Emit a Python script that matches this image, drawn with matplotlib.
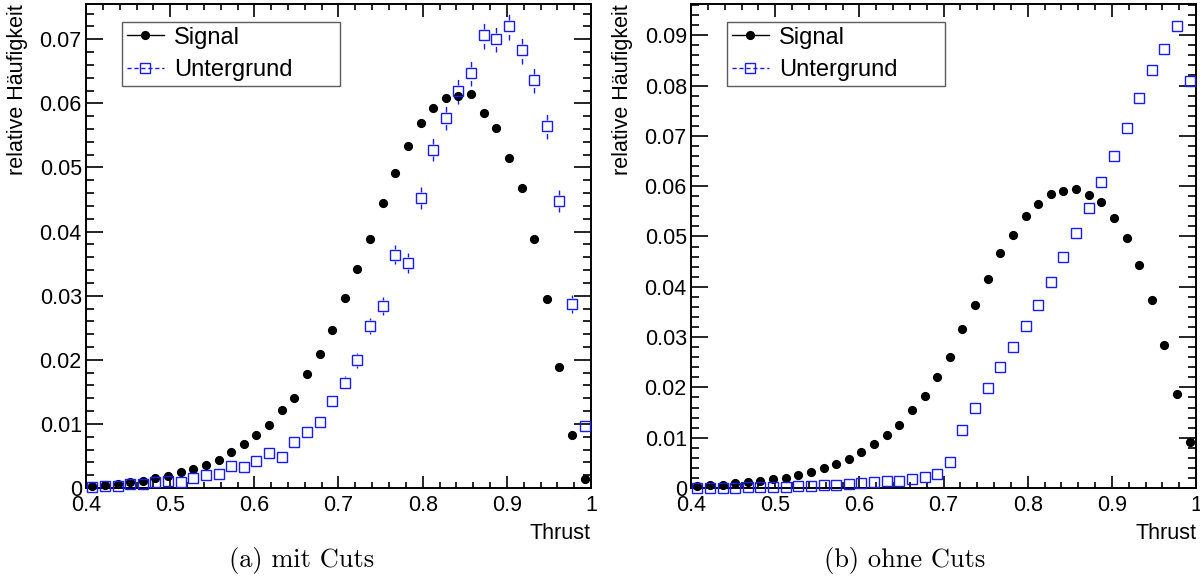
import matplotlib
matplotlib.use("Agg")
import matplotlib.pyplot as plt
from matplotlib.lines import Line2D
from matplotlib.ticker import FixedLocator, MultipleLocator
import numpy as np

plt.rcParams['font.family'] = ['Liberation Sans', 'DejaVu Sans']

# bin centres: 40 bins of width 0.015 from 0.4 to 1.0
thrust = [0.4075 + 0.015 * i for i in range(40)]

# (a) mit Cuts
sig_a = [0.00036, 0.0005, 0.0007, 0.0009, 0.0011, 0.0016, 0.0019, 0.0025, 0.0029, 0.0036,
         0.0044, 0.0056, 0.0068, 0.0083, 0.0099, 0.0121, 0.0141, 0.0178, 0.0209, 0.0247,
         0.0296, 0.0341, 0.0389, 0.0445, 0.0491, 0.0534, 0.0569, 0.0593, 0.0608, 0.0612,
         0.0614, 0.0585, 0.0562, 0.0515, 0.0468, 0.0389, 0.0295, 0.0188, 0.0083, 0.0014]
bkg_a = [0.00016, 0.0003, 0.0003, 0.0006, 0.0007, 0.0009, 0.0011, 0.0009, 0.0016, 0.0020,
         0.0022, 0.0034, 0.0033, 0.0042, 0.0054, 0.0048, 0.0072, 0.0087, 0.0103, 0.0135,
         0.0164, 0.0199, 0.0253, 0.0284, 0.0364, 0.0351, 0.0452, 0.0528, 0.0577, 0.0619,
         0.0647, 0.0706, 0.0701, 0.0720, 0.0683, 0.0637, 0.0564, 0.0448, 0.0287, 0.0097]
bkg_a_err = [0.0001, 0.00014, 0.00014, 0.0002, 0.0002, 0.00024, 0.00027, 0.00024, 0.00032, 0.00036,
             0.00038, 0.00047, 0.00046, 0.00052, 0.00059, 0.00055, 0.00068, 0.00075, 0.00081, 0.00093,
             0.00102, 0.00113, 0.00127, 0.00135, 0.00153, 0.0015, 0.0017, 0.00184, 0.00192, 0.00199,
             0.00204, 0.00213, 0.00212, 0.00215, 0.0021, 0.00202, 0.0019, 0.0017, 0.00136, 0.00079]

# (b) ohne Cuts
sig_b = [0.0003, 0.0005, 0.0005, 0.0009, 0.0011, 0.0014, 0.0017, 0.0020, 0.0025, 0.0031,
         0.0039, 0.0048, 0.0058, 0.0072, 0.0087, 0.0105, 0.0126, 0.0156, 0.0182, 0.0220,
         0.0261, 0.0316, 0.0364, 0.0416, 0.0468, 0.0502, 0.0540, 0.0565, 0.0585, 0.0590,
         0.0595, 0.0583, 0.0569, 0.0537, 0.0497, 0.0444, 0.0373, 0.0285, 0.0187, 0.0091]
bkg_b = [0.00005, 0.00003, 0.00005, 0.00005, 0.0001, 0.0001, 0.0001, 0.0002, 0.0003, 0.0004,
         0.0005, 0.0006, 0.0007, 0.0009, 0.0011, 0.0013, 0.0014, 0.0018, 0.0022, 0.0027,
         0.0051, 0.0115, 0.0160, 0.0198, 0.0240, 0.0280, 0.0322, 0.0363, 0.0409, 0.0459,
         0.0506, 0.0556, 0.0609, 0.0659, 0.0716, 0.0775, 0.0831, 0.0872, 0.0919, 0.0808]

xticks = [0.4, 0.5, 0.6, 0.7, 0.8, 0.9, 1.0]
xticklabels = ['0.4', '0.5', '0.6', '0.7', '0.8', '0.9', '1']
yticks_a = [0, 0.01, 0.02, 0.03, 0.04, 0.05, 0.06, 0.07]
yticklabels_a = ['0', '0.01', '0.02', '0.03', '0.04', '0.05', '0.06', '0.07']
yticks_b = [0, 0.01, 0.02, 0.03, 0.04, 0.05, 0.06, 0.07, 0.08, 0.09]
yticklabels_b = ['0', '0.01', '0.02', '0.03', '0.04', '0.05', '0.06', '0.07', '0.08', '0.09']

BLUE = '#1a1aff'
W, H = 1200, 583
fig = plt.figure(figsize=(W / 100, H / 100), dpi=100)
ax_a = fig.add_axes([86 / W, 1 - 488 / H, 505 / W, 484 / H])
ax_b = fig.add_axes([691 / W, 1 - 488 / H, 505 / W, 484 / H])


def draw_panel(ax, sig, bkg, ymax, yticks, yticklabels, bkg_err=None):
    ax.set_xlim(0.4, 1.0)
    ax.set_ylim(0, ymax)
    if bkg_err is not None:
        # error bars start outside the marker, like ROOT draws them
        gap = 6 * ymax / 484
        lo = [b - e for b, e in zip(bkg, bkg_err)]
        hi = [b + e for b, e in zip(bkg, bkg_err)]
        up0 = [b + gap for b in bkg]
        dn0 = [b - gap for b in bkg]
        up = [(x, a, c) for x, a, c in zip(thrust, up0, hi) if c > a]
        dn = [(x, a, c) for x, a, c in zip(thrust, lo, dn0) if c > a]
        if up:
            ax.vlines([u[0] for u in up], [u[1] for u in up], [u[2] for u in up],
                      colors=BLUE, linewidth=1.0, linestyles=(0, (4, 2)), zorder=2)
        if dn:
            ax.vlines([d[0] for d in dn], [d[1] for d in dn], [d[2] for d in dn],
                      colors=BLUE, linewidth=1.0, linestyles=(0, (4, 2)), zorder=2)
    ax.plot(thrust, sig, 'o', color='black', markersize=5.6, zorder=3, clip_on=False)
    ax.plot(thrust, bkg, 's', mfc='none', mec=BLUE, mew=1.0, markersize=6.6, zorder=4, clip_on=False)

    ax.xaxis.set_major_locator(FixedLocator(xticks))
    ax.set_xticklabels(xticklabels)
    ax.xaxis.set_minor_locator(MultipleLocator(0.02))
    ax.yaxis.set_major_locator(FixedLocator(yticks))
    ax.set_yticklabels(yticklabels)
    ax.yaxis.set_minor_locator(MultipleLocator(0.002))
    ax.tick_params(direction='in', top=True, right=True, which='both', labelsize=15.5, width=1.2)
    ax.tick_params(axis='x', which='major', length=9, pad=5)
    ax.tick_params(axis='x', which='minor', length=4.5)
    ax.tick_params(axis='y', which='major', length=12.5, pad=3)
    ax.tick_params(axis='y', which='minor', length=6)
    for s in ax.spines.values():
        s.set_linewidth(1.4)
    ax.set_xlabel('Thrust', fontsize=15.5, loc='right', labelpad=5)
    ax.set_ylabel('relative Häufigkeit', fontsize=15.5, loc='top', labelpad=8)

    handles = [Line2D([], [], color='black', lw=1.0, marker='o', markersize=5.6),
               Line2D([], [], color=BLUE, lw=1.0, ls=(0, (3, 2)), marker='s', mfc='none',
                      mec=BLUE, markersize=6.6)]
    leg = ax.legend(handles, ['Signal', 'Untergrund'], loc='upper left',
                    bbox_to_anchor=(0.071, 0.839, 0.432, 0.124), mode='expand',
                    fontsize=17, frameon=True, fancybox=False,
                    edgecolor='#333333', borderpad=0.2, handlelength=1.6, handletextpad=0.4,
                    labelspacing=0.45, borderaxespad=0)
    leg.get_frame().set_linewidth(1.0)


draw_panel(ax_a, sig_a, bkg_a, 0.0755, yticks_a, yticklabels_a, bkg_a_err)
draw_panel(ax_b, sig_b, bkg_b, 0.0962, yticks_b, yticklabels_b)

fig.text(0.251, 1 - 560 / H, '(a) mit Cuts', ha='center', va='center', fontsize=19, family='cmr10')
fig.text(0.754, 1 - 560 / H, '(b) ohne Cuts', ha='center', va='center', fontsize=19, family='cmr10')

fig.savefig('out.png', dpi=100)
